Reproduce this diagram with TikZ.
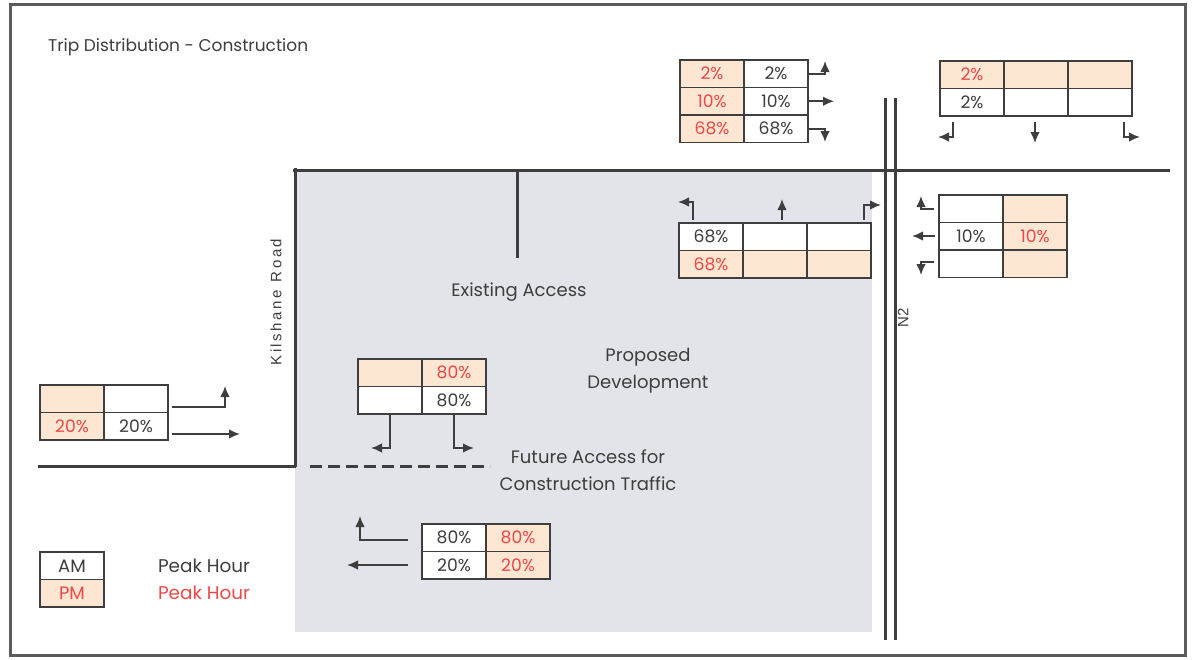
\documentclass[tikz,border=0pt]{standalone}
\usepackage{fontspec}
\setmainfont{Poppins}
\newfontfamily\roadfont{Liberation Sans}
\usepackage{tikz}
\usetikzlibrary{arrows.meta,positioning}
\definecolor{PeakRed}{RGB}{238,72,72}
\definecolor{PeachFill}{RGB}{253,230,210}
\definecolor{SiteGrey}{RGB}{227,228,233}
\definecolor{InkGrey}{RGB}{62,62,62}

\begin{document}
\begin{tikzpicture}[>={Latex[length=5.5pt,width=4.8pt]},x=0.5pt,y=-0.5pt,node distance=0pt,every node/.style={font=\fontsize{8.6}{10}\selectfont,text=InkGrey}]
\tikzset{amcell/.style={draw=InkGrey,line width=0.7pt,fill=white,minimum width=32pt,minimum height=13.75pt,inner sep=0pt,outer sep=0pt},
  pmcell/.style={amcell,fill=PeachFill,text=PeakRed},
  road/.style={draw=InkGrey,line width=1.5pt},
  turn/.style={->,draw=InkGrey,line width=0.8pt},
  label/.style={font=\fontsize{9}{13.5}\selectfont,align=center}}
\useasboundingbox (0,0) rectangle (1192,659);
\fill[white] (0,0) rectangle (1192,659);
\draw[InkGrey!85,line width=1.5pt] (10,4) rectangle (1185,655);
% site and roads
\fill[SiteGrey] (295,170) rectangle (872,632);
\draw[road] (295,168)--(295,467);
\draw[road] (293,170)--(1170,170);
\draw[road] (517,170)--(517,258);
\draw[road] (38,466)--(296,466);
\draw[road,dash pattern=on 6pt off 3pt] (310,466)--(490,466);
\draw[road] (885,98)--(885,640);
\draw[road] (895,98)--(895,640);
% labels
\node[anchor=west,font=\fontsize{8.5}{10}\selectfont] (title) at (41,47) {Trip Distribution - Construction};
\node[rotate=90,font=\roadfont\fontsize{7.5}{9}\selectfont] (kilshane) at (276,302) {K\,i\,l\,s\,h\,a\,n\,e\ \ R\,o\,a\,d};
\node[rotate=90,font=\roadfont\fontsize{7.5}{9}\selectfont] (ntwo) at (903,318) {N2};
\node[label] (exist) at (519,292) {Existing Access};
\node[label] (propdev) at (648,371) {Proposed\\Development};
\node[label] (future) at (588,470) {Future Access for\\Construction Traffic};
% N2 north approach
\node[pmcell] (t1p1) at (712,73.75) {2\%};
\node[amcell,right=of t1p1] (t1a1) {2\%};
\node[pmcell,below=of t1p1] (t1p2) {10\%};
\node[amcell,right=of t1p2] (t1a2) {10\%};
\node[pmcell,below=of t1p2] (t1p3) {68\%};
\node[amcell,right=of t1p3] (t1a3) {68\%};
\coordinate (t1up) at (825,61);
\coordinate (t1ahead) at (834,101.25);
\coordinate (t1down) at (825,142);
\draw[turn] (t1a1.east) -| (t1up);
\draw[turn] (t1a2.east) -- (t1ahead);
\draw[turn] (t1a3.east) -| (t1down);
% east road
\node[pmcell] (t2p1) at (972,74.75) {2\%};
\node[pmcell,right=of t2p1] (t2p2) {};
\node[pmcell,right=of t2p2] (t2p3) {};
\node[amcell,below=of t2p1] (t2a1) {2\%};
\node[amcell,right=of t2a1] (t2a2) {};
\node[amcell,right=of t2a2] (t2a3) {};
\coordinate (t2s1) at (953,122); \coordinate (t2e1) at (938,137);
\coordinate (t2s2) at (1035,122); \coordinate (t2e2) at (1035,143);
\coordinate (t2s3) at (1124,122); \coordinate (t2e3) at (1140,137);
\draw[turn] (t2s1) |- (t2e1);
\draw[turn] (t2s2) -- (t2e2);
\draw[turn] (t2s3) |- (t2e3);
% N2 south approach
\node[amcell] (t3a1) at (711,236.75) {68\%};
\node[amcell,right=of t3a1] (t3a2) {};
\node[amcell,right=of t3a2] (t3a3) {};
\node[pmcell,below=of t3a1] (t3p1) {68\%};
\node[pmcell,right=of t3p1] (t3p2) {};
\node[pmcell,right=of t3p2] (t3p3) {};
\coordinate (t3s1) at (693,220); \coordinate (t3e1) at (678,202);
\coordinate (t3s2) at (782,220); \coordinate (t3e2) at (782,199);
\coordinate (t3s3) at (864,220); \coordinate (t3e3) at (881,205);
\draw[turn] (t3s1) |- (t3e1);
\draw[turn] (t3s2) -- (t3e2);
\draw[turn] (t3s3) |- (t3e3);
% west approach from east
\node[amcell] (t4a1) at (971,208.75) {};
\node[pmcell,right=of t4a1] (t4p1) {};
\node[amcell,below=of t4a1] (t4a2) {10\%};
\node[pmcell,right=of t4a2] (t4p2) {10\%};
\node[amcell,below=of t4a2] (t4a3) {};
\node[pmcell,right=of t4a3] (t4p3) {};
\coordinate (t4s1) at (934,209); \coordinate (t4e1) at (921,196);
\coordinate (t4s2) at (935,236); \coordinate (t4e2) at (912,236);
\coordinate (t4s3) at (934,262); \coordinate (t4e3) at (921,275);
\draw[turn] (t4s1) -| (t4e1);
\draw[turn] (t4s2) -- (t4e2);
\draw[turn] (t4s3) -| (t4e3);
% left road
\node[pmcell] (t5p1) at (72,398.75) {};
\node[amcell,right=of t5p1] (t5a1) {};
\node[pmcell,below=of t5p1] (t5p2) {20\%};
\node[amcell,right=of t5p2] (t5a2) {20\%};
\coordinate (t5s1) at (172,407); \coordinate (t5e1) at (225,386);
\coordinate (t5s2) at (172,434); \coordinate (t5e2) at (240,434);
\draw[turn] (t5s1) -| (t5e1);
\draw[turn] (t5s2) -- (t5e2);
% site access
\node[pmcell] (t6p1) at (390,372.75) {};
\node[pmcell,right=of t6p1] (t6p2) {80\%};
\node[amcell,below=of t6p1] (t6a1) {};
\node[amcell,below=of t6p2] (t6a2) {80\%};
\coordinate (t6e1) at (371,448);
\coordinate (t6e2) at (474,448);
\draw[turn] (t6a1.south) |- (t6e1);
\draw[turn] (t6a2.south) |- (t6e2);
% exit
\node[amcell] (t7a1) at (454,537.75) {80\%};
\node[pmcell,right=of t7a1] (t7p1) {80\%};
\node[amcell,below=of t7a1] (t7a2) {20\%};
\node[pmcell,right=of t7a2] (t7p2) {20\%};
\coordinate (t7s1) at (408,540); \coordinate (t7e1) at (360,516);
\coordinate (t7s2) at (408,565); \coordinate (t7e2) at (347,565);
\draw[turn] (t7s1) -| (t7e1);
\draw[turn] (t7s2) -- (t7e2);
% key
\node[amcell,font=\fontsize{9}{10}\selectfont] (keyam) at (72,565.75) {AM};
\node[pmcell,font=\fontsize{9}{10}\selectfont,below=of keyam] (keypm) {PM};
\node[anchor=west,font=\fontsize{9.2}{10}\selectfont] (keyamtxt) at (151,566) {Peak Hour};
\node[anchor=west,font=\fontsize{9.2}{10}\selectfont,text=PeakRed] (keypmtxt) at (151,593) {Peak Hour};
\end{tikzpicture}
\end{document}
